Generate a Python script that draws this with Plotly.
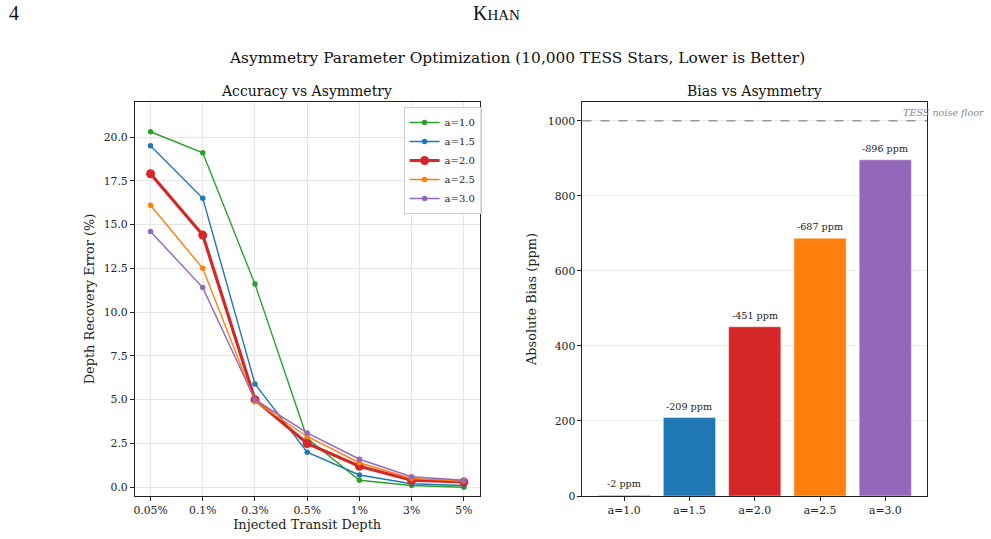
import plotly.graph_objects as go

depths = ["0.05%", "0.1%", "0.3%", "0.5%", "1%", "3%", "5%"]
asym_labels = ["a=1.0", "a=1.5", "a=2.0", "a=2.5", "a=3.0"]
err_a10 = [20.3, 19.1, 11.6, 2.8, 0.4, 0.1, 0.0]
err_a15 = [19.5, 16.5, 5.9, 2.0, 0.7, 0.2, 0.1]
err_a20 = [17.9, 14.4, 5.0, 2.5, 1.2, 0.4, 0.3]
err_a25 = [16.1, 12.5, 4.9, 2.9, 1.4, 0.5, 0.35]
err_a30 = [14.6, 11.4, 5.0, 3.1, 1.6, 0.6, 0.4]
bias_ppm = [-2, -209, -451, -687, -896]
noise_floor = 1000
colors = ["#2ca02c", "#1f77b4", "#d62728", "#ff7f0e", "#9467bd"]

W, H = 991, 539
HE = 532.0  # effective rendered paper height observed
def px(x):
    return x / W
def py(y):
    return 1 - y / HE

FONT = "DejaVu Serif"
fig = go.Figure()

series = [err_a10, err_a15, err_a20, err_a25, err_a30]
for lab, vals, c in zip(asym_labels, series, colors):
    bold = lab == "a=2.0"
    fig.add_trace(go.Scatter(
        x=depths, y=vals, name=lab, mode="lines+markers",
        line=dict(color=c, width=3.2 if bold else 1.4),
        marker=dict(color=c, size=9 if bold else 5.5),
        xaxis="x", yaxis="y"))

abs_bias = [abs(b) for b in bias_ppm]
fig.add_trace(go.Bar(
    x=asym_labels, y=abs_bias, marker=dict(color=colors, line=dict(color="rgba(255,255,255,0.45)", width=1)),
    opacity=1.0, width=0.8, showlegend=False, xaxis="x2", yaxis="y2"))

ann = []
for lab, b, v in zip(asym_labels, bias_ppm, abs_bias):
    ann.append(dict(x=lab, y=v, xref="x2", yref="y2", text=f"{b} ppm", showarrow=False,
                    yanchor="bottom", yshift=4, font=dict(family=FONT, size=9.6, color="#222")))

ann.append(dict(xref="x2 domain", yref="y2", x=0.925, y=noise_floor, text="<i>TESS noise floor</i>",
                xanchor="left", yanchor="bottom", yshift=1, showarrow=False,
                font=dict(family=FONT, size=9.6, color="#888")))

# titles
ann.append(dict(xref="paper", yref="paper", x=px(517), y=py(58), text="Asymmetry Parameter Optimization (10,000 TESS Stars, Lower is Better)",
                showarrow=False, xanchor="center", yanchor="middle", font=dict(family=FONT, size=15.4, color="#111")))
ann.append(dict(xref="paper", yref="paper", x=px(306), y=py(91), text="Accuracy vs Asymmetry",
                showarrow=False, xanchor="center", yanchor="middle", font=dict(family=FONT, size=14, color="#111")))
ann.append(dict(xref="paper", yref="paper", x=px(754), y=py(91), text="Bias vs Asymmetry",
                showarrow=False, xanchor="center", yanchor="middle", font=dict(family=FONT, size=14, color="#111")))
ann.append(dict(xref="paper", yref="paper", x=px(6), y=py(13), text="4",
                showarrow=False, xanchor="left", yanchor="middle", font=dict(family="Liberation Serif", size=20, color="#111")))
ann.append(dict(xref="paper", yref="paper", x=px(496), y=py(13), text="K<span style='font-size:15px'>HAN</span>",
                showarrow=False, xanchor="center", yanchor="middle", font=dict(family="Liberation Serif", size=20, color="#111")))

axis_common = dict(showline=True, linecolor="#222", linewidth=1, mirror=True, ticks="outside",
                   ticklen=4, tickcolor="#222", tickfont=dict(family=FONT, size=10.8, color="#222"),
                   zeroline=False)

fig.update_layout(
    width=W, height=H, margin=dict(l=0, r=0, t=0, b=0),
    paper_bgcolor="white", plot_bgcolor="white",
    font=dict(family=FONT, color="#222"),
    xaxis=dict(domain=[px(134), px(479)], anchor="y", type="category", range=[-0.3, 6.3],
               showgrid=True, gridcolor="#e6e6e6",
               title=dict(text="Injected Transit Depth", font=dict(family=FONT, size=12.9), standoff=4),
               **axis_common),
    yaxis=dict(domain=[py(496), py(102)], anchor="x", range=[-0.5, 22.0],
               tickvals=[0, 2.5, 5, 7.5, 10, 12.5, 15, 17.5, 20], tickformat=".1f",
               showgrid=True, gridcolor="#e6e6e6",
               title=dict(text="Depth Recovery Error (%)", font=dict(family=FONT, size=12.9), standoff=6),
               **axis_common),
    xaxis2=dict(domain=[px(582), px(927)], anchor="y2", type="category", range=[-0.64, 4.64],
                showgrid=False, **axis_common),
    yaxis2=dict(domain=[py(496), py(102)], anchor="x2", range=[0, 1050],
                tickvals=[0, 200, 400, 600, 800, 1000],
                showgrid=True, gridcolor="#ebebeb",
                title=dict(text="Absolute Bias (ppm)", font=dict(family=FONT, size=12.9), standoff=8),
                **axis_common),
    legend=dict(x=px(403), y=py(107), xanchor="left", yanchor="top",
                bgcolor="rgba(255,255,255,0.85)", bordercolor="#cccccc", borderwidth=1,
                font=dict(family=FONT, size=10, color="#222"), tracegroupgap=0, itemwidth=30),
    annotations=ann,
    shapes=[dict(type="line", xref="x2 domain", yref="y2", x0=0, x1=1, y0=noise_floor, y1=noise_floor,
                 line=dict(color="#9a9a9a", width=1.5, dash="dash"), layer="above")],
    bargap=0.2,
)

fig.write_html("out.html")
